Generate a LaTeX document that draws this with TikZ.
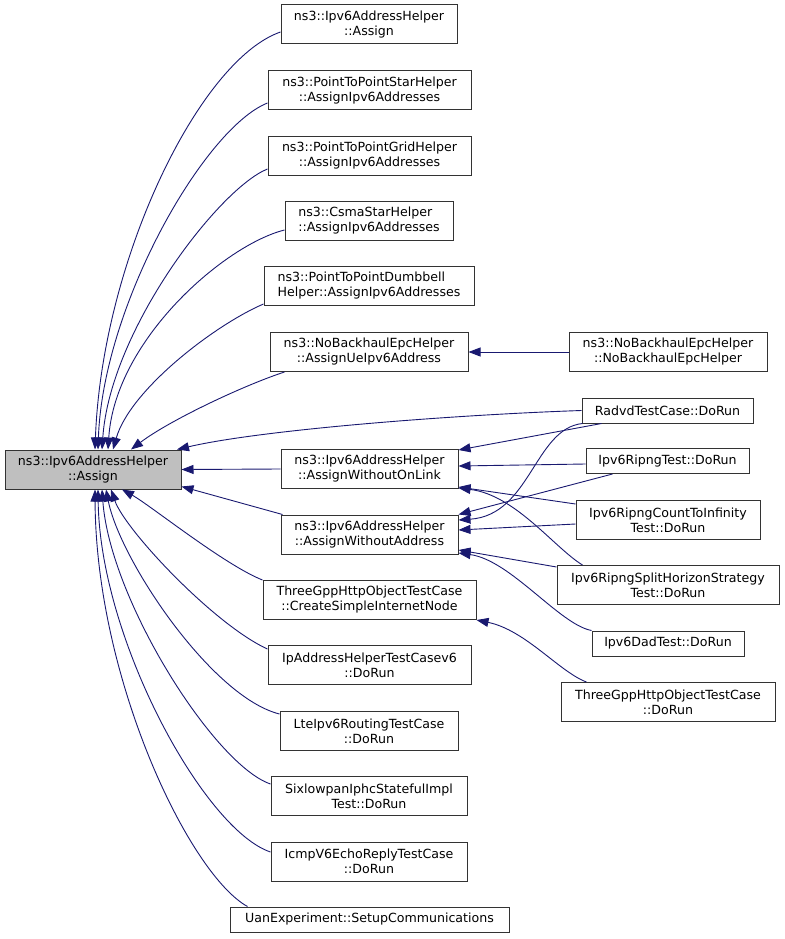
\documentclass[tikz,border=0pt]{standalone}
\usepackage{fontspec}
\setmainfont{DejaVu Sans}
\usetikzlibrary{arrows.meta}
\definecolor{edgeblue}{HTML}{191970}
\definecolor{mainfill}{HTML}{BFBFBF}

\begin{document}
\begin{tikzpicture}[
        x=1pt, y=-1pt,
        font=\fontsize{12.6}{15}\selectfont,
        fn/.style={draw=black!80, fill=white, align=center, inner sep=1pt,
            minimum height=39pt, line width=1pt},
        fn1/.style={fn, minimum height=25pt},
        callee/.style={fn, fill=mainfill},
        edge/.style={draw=edgeblue, line width=0.9pt,
            -{Triangle[length=12pt,width=9pt]}}
    ]
        \useasboundingbox (0,0) rectangle (784,939);

        % the function and its callers
        \node[callee, minimum width=176pt] (assign) at (93,469.5) {ns3::Ipv6AddressHelper\\::Assign};

        \node[fn, minimum width=176pt] (assignb) at (369,24.5) {ns3::Ipv6AddressHelper\\::Assign};
        \node[fn, minimum width=203pt] (p2pstar) at (369.5,90.5) {ns3::PointToPointStarHelper\\::AssignIpv6Addresses};
        \node[fn, minimum width=203pt] (p2pgrid) at (369.5,156) {ns3::PointToPointGridHelper\\::AssignIpv6Addresses};
        \node[fn, minimum width=168pt, align=left] (csma) at (369,221) {ns3::CsmaStarHelper\\::AssignIpv6Addresses};
        \node[fn, minimum width=210pt, align=left] (dumbbell) at (369,286) {ns3::PointToPointDumbbell\\Helper::AssignIpv6Addresses};
        \node[fn, minimum width=198pt] (ueaddr) at (369,352) {ns3::NoBackhaulEpcHelper\\::AssignUeIpv6Address};
        \node[fn, minimum width=177pt] (onlink) at (369.5,469) {ns3::Ipv6AddressHelper\\::AssignWithoutOnLink};
        \node[fn, minimum width=177pt] (noaddr) at (369.5,534.5) {ns3::Ipv6AddressHelper\\::AssignWithoutAddress};
        \node[fn, minimum width=213pt] (inetnode) at (369.5,600) {ThreeGppHttpObjectTestCase\\::CreateSimpleInternetNode};
        \node[fn, minimum width=203pt] (iphelper) at (369.5,665) {IpAddressHelperTestCasev6\\::DoRun};
        \node[fn, minimum width=178pt] (lterouting) at (369,731) {LteIpv6RoutingTestCase\\::DoRun};
        \node[fn, minimum width=196pt] (sixlowpan) at (369,796) {SixlowpanIphcStatefulImpl\\Test::DoRun};
        \node[fn, minimum width=196pt] (icmpecho) at (369,861.5) {IcmpV6EchoReplyTestCase\\::DoRun};
        \node[fn1, minimum width=279pt] (uan) at (369.5,919.5) {UanExperiment::SetupCommunications};

        % second level callers
        \node[fn, minimum width=198pt] (nobackhaul) at (668,352) {ns3::NoBackhaulEpcHelper\\::NoBackhaulEpcHelper};
        \node[fn1, minimum width=171pt] (radvd) at (667.5,410.5) {RadvdTestCase::DoRun};
        \node[fn1, minimum width=163pt] (ripng) at (667.5,461) {Ipv6RipngTest::DoRun};
        \node[fn, minimum width=184pt] (countinf) at (668,520) {Ipv6RipngCountToInfinity\\Test::DoRun};
        \node[fn, minimum width=222pt] (splithor) at (668,585) {Ipv6RipngSplitHorizonStrategy\\Test::DoRun};
        \node[fn1, minimum width=152pt] (dad) at (668,643.5) {Ipv6DadTest::DoRun};
        \node[fn, minimum width=214pt] (httprun) at (668,702) {ThreeGppHttpObjectTestCase\\::DoRun};

        % calls into Assign, from above
        \draw[edge] ([yshift=-7.5pt]assignb.west) .. controls +(-81,28) and +(7,-189.5) .. ([xshift=2pt]assign.north);
        \draw[edge] ([yshift=-12.5pt]p2pstar.west) .. controls +(-63,25) and +(5,-144.5) .. ([xshift=5pt]assign.north);
        \draw[edge] ([yshift=-13pt]p2pgrid.west) .. controls +(-48,19) and +(8,-119.5) .. ([xshift=9pt]assign.north);
        \draw[edge] ([yshift=-9pt]csma.west) .. controls +(-60,15) and +(7,-109.5) .. ([xshift=15pt]assign.north);
        \draw[edge] ([yshift=-18pt]dumbbell.west) .. controls +(-49,21) and +(17,-59.5) .. ([xshift=20pt]assign.north);
        \draw[edge] ([xshift=15pt]ueaddr.south west) .. controls +(-40,13) and +(39,-29.5) .. ([xshift=38pt]assign.north);
        \draw[edge] (radvd.west) .. controls +(-132,4.5) and +(83,-19.5) .. ([xshift=84pt]assign.north);

        % from the right
        \draw[edge] (onlink.west) -- (assign.east);
        \draw[edge] ([xshift=2pt]noaddr.north west) -- ([yshift=3pt]assign.south east);

        % from below
        \draw[edge] (inetnode.north west) .. controls +(-38,-15) and +(28,15.5) .. ([xshift=29pt]assign.south);
        \draw[edge] ([yshift=16pt]iphelper.west) .. controls +(-53,-24) and +(14,40.5) .. ([xshift=18pt]assign.south);
        \draw[edge] ([yshift=17pt]lterouting.west) .. controls +(-68,-17) and +(14,70.5) .. ([xshift=13pt]assign.south);
        \draw[edge] ([yshift=12pt]sixlowpan.west) .. controls +(-56,-19) and +(8,110.5) .. ([xshift=9pt]assign.south);
        \draw[edge] ([yshift=9.5pt]icmpecho.west) .. controls +(-66,-22) and +(2,150.5) .. ([xshift=5pt]assign.south);
        \draw[edge] ([xshift=18pt]uan.north west) .. controls +(-58,-32) and +(1,190.5) .. ([xshift=2pt]assign.south);

        % second level calls
        \draw[edge] (nobackhaul.west) -- (ueaddr.east);
        \draw[edge] ([xshift=20pt]radvd.south west) -- ([yshift=-1pt]onlink.north east);
        \draw[edge] ([yshift=-3pt]ripng.west) -- ([yshift=3pt]onlink.east);
        \draw[edge] ([yshift=-4pt]countinf.north west) -- ([yshift=2pt]onlink.south east);
        \draw[edge] ([xshift=26pt]splithor.north west) .. controls +(-28,-17) and +(57,7) .. ([yshift=1pt]onlink.south east);
        \draw[edge] ([xshift=1pt]radvd.south west) .. controls +(-48,5) and +(72,-5) .. ([yshift=-5.5pt]noaddr.north east);
        \draw[edge] ([xshift=27pt]ripng.south west) -- (noaddr.north east);
        \draw[edge] ([yshift=-4pt]countinf.west) -- ([yshift=4.5pt]noaddr.east);
        \draw[edge] ([yshift=-2pt]splithor.north west) -- ([yshift=4.5pt]noaddr.south east);
        \draw[edge] (dad.north west) .. controls +(-32,-6) and +(52,7) .. ([yshift=1.5pt]noaddr.south east);
        \draw[edge] ([xshift=26pt]httprun.north west) .. controls +(-27,-10) and +(49,10) .. (inetnode.south east);
\end{tikzpicture}
\end{document}
